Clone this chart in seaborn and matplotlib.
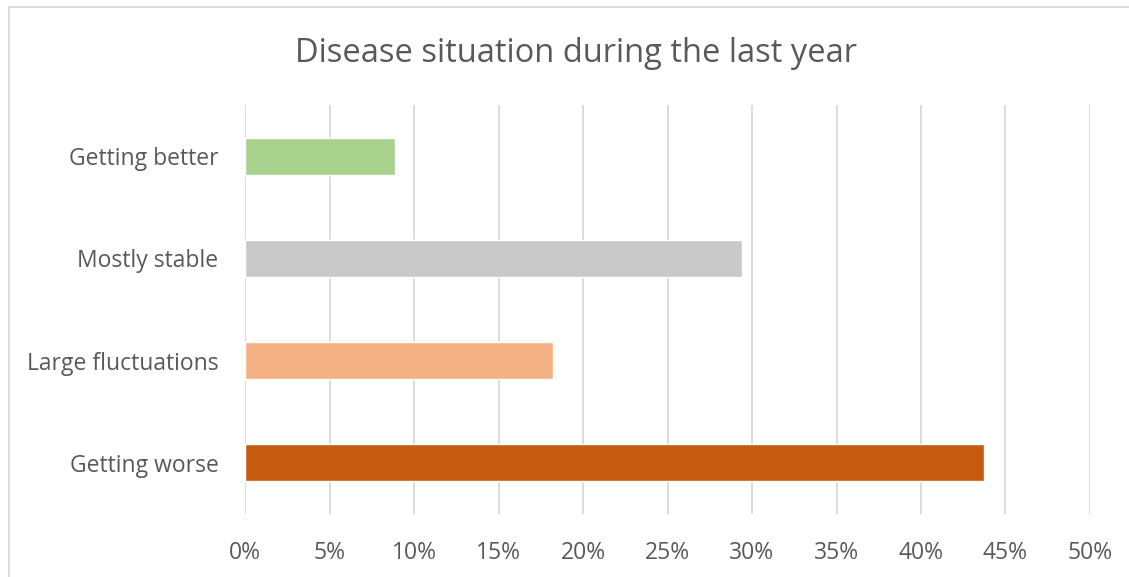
import matplotlib
matplotlib.use("Agg")
import matplotlib.pyplot as plt
import seaborn as sns
import pandas as pd
from matplotlib.ticker import FuncFormatter, MultipleLocator
from matplotlib.patches import Rectangle

categories = ["Getting better", "Mostly stable", "Large fluctuations", "Getting worse"]
values = [8.9, 29.4, 18.2, 43.7]
colors = ["#A9D18E", "#C9C9C9", "#F4B183", "#C55A11"]
title = "Disease situation during the last year"

sns.set_theme(style="white")
plt.rcParams["font.family"] = ["Open Sans", "DejaVu Sans"]

df = pd.DataFrame({"category": categories, "value": values})

fig = plt.figure(figsize=(11.29, 5.77), dpi=100)
ax = fig.add_axes([245/1129, 1-514/577, (1090-245)/1129, (514-105)/577])

sns.barplot(data=df, x="value", y="category", hue="category", palette=colors,
            order=categories, hue_order=categories, legend=False, width=0.36,
            ax=ax, saturation=1, orient="h")

ax.set_xlim(0, 50)
ax.xaxis.set_major_locator(MultipleLocator(5))
ax.xaxis.set_major_formatter(FuncFormatter(lambda v, p: f"{v:.0f}%"))
ax.grid(axis="x", color="#D9D9D9", linewidth=1.3)
ax.set_axisbelow(True)
for s in ax.spines.values():
    s.set_visible(False)
ax.set_xlabel("")
ax.set_ylabel("")
ax.tick_params(axis="both", length=0, labelsize=16.5, colors="#595959")
ax.tick_params(axis="x", pad=19.5)
ax.tick_params(axis="y", pad=19)

fig.text(576/1129, 1-53/577, title, ha="center", va="center", fontsize=23.5, color="#595959")

fig.patches.append(Rectangle((8.5/1129, -0.1), 1.2, 1 - 6.5/577 + 0.1, transform=fig.transFigure,
                             fill=False, edgecolor="#D9D9D9", linewidth=1.3))

fig.savefig("out.png", dpi=100)
